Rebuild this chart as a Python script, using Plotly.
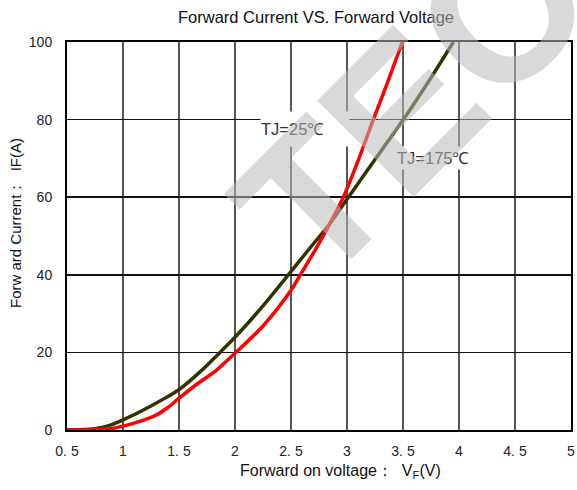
import plotly.graph_objects as go

# 175 C curve (dark olive)
vf_175 = [0.5, 0.7, 0.8, 0.9, 1.0, 1.25, 1.5, 1.7, 1.866, 2.0, 2.25, 2.476, 2.7, 2.83, 3.0, 3.25, 3.503, 3.75, 3.95]
if_175 = [0, 0.2, 0.6, 1.4, 2.6, 6.2, 10.4, 15.3, 20, 23.9, 32, 40, 48, 52.5, 59.5, 69.7, 80, 90.8, 100]

# 25 C curve (red)
vf_25 = [0.5, 0.75, 0.9, 1.0, 1.15, 1.3, 1.4, 1.5, 1.65, 1.83, 2.0, 2.25, 2.5, 2.6, 2.714, 2.83, 2.967, 3.1, 3.235, 3.37, 3.494]
if_25 = [0, 0.05, 0.4, 1.0, 2.2, 3.9, 5.8, 8.2, 11.6, 15.3, 19.8, 26.8, 36, 40.8, 46.3, 52.3, 60, 69.5, 80, 90.2, 100]

x_ticks = [0.5, 1, 1.5, 2, 2.5, 3, 3.5, 4, 4.5, 5]
x_ticktext = ["0. 5", "1", "1. 5", "2", "2. 5", "3", "3. 5", "4", "4. 5", "5"]
y_ticks = [0, 20, 40, 60, 80, 100]

font = "Liberation Sans, Arial, sans-serif"
narrow = "Liberation Sans Narrow, Liberation Sans, Arial, sans-serif"

L, R, T, B = 67, 6, 42, 60
W, H = 577, 490
PW, PH = W - L - R, H - T - B


def px(xp):
    return (xp - L) / PW


def py(yp):
    return (H - B - yp) / PH


fig = go.Figure()
fig.add_trace(go.Scatter(x=vf_175, y=if_175, mode="lines",
                         line=dict(color="#333300", width=3.5, shape="spline", smoothing=0.8), showlegend=False))
fig.add_trace(go.Scatter(x=vf_25, y=if_25, mode="lines",
                         line=dict(color="#ff0000", width=3.5, shape="spline", smoothing=0.8), showlegend=False))

fig.update_layout(
    width=W, height=H,
    margin=dict(l=L, r=R, t=T, b=B, autoexpand=False),
    paper_bgcolor="white", plot_bgcolor="white",
    font=dict(family=font, color="#111", size=13),
    xaxis=dict(range=[0.5, 5], tickmode="array", tickvals=x_ticks, ticktext=x_ticktext, automargin=False,
               showgrid=True, gridcolor="#555", gridwidth=1.8, showline=True, linecolor="black", linewidth=2,
               mirror=True, ticks="", zeroline=False, ticklabelstandoff=7,
               tickfont=dict(size=14, family=font, color="#222")),
    yaxis=dict(range=[0, 100], tickmode="array", tickvals=y_ticks, automargin=False,
               showgrid=True, gridcolor="#111", gridwidth=1.5, showline=True, linecolor="black", linewidth=2,
               mirror=True, ticks="", zeroline=False, ticklabelstandoff=10,
               tickfont=dict(size=14, family=narrow, color="#222")),
)

# title
fig.add_annotation(x=px(316), y=py(17), xref="paper", yref="paper", xanchor="center", yanchor="middle",
                   text="Forward Current VS. Forward Voltage", showarrow=False,
                   font=dict(size=16.5, family=font, color="#111"))
# x axis title
fig.add_annotation(x=px(340), y=py(471), xref="paper", yref="paper", xanchor="center", yanchor="middle",
                   text="Forward on voltage：  V<sub>F</sub>(V)", showarrow=False,
                   font=dict(size=16, family=font, color="#111"))
# y axis title
fig.add_annotation(x=px(15), y=py(223), xref="paper", yref="paper", xanchor="center", yanchor="middle",
                   text="Forw ard Current：  IF(A)", showarrow=False, textangle=-90,
                   font=dict(size=15, family=font, color="#111"))

# curve labels with white boxes
fig.add_annotation(x=2.625, y=77.7, xref="x", yref="y", text="TJ=25℃", showarrow=False,
                   width=88, height=34, align="left", bgcolor="white", borderpad=0,
                   font=dict(size=16.5, family=font, color="#333"))
fig.add_annotation(x=3.786, y=70.1, xref="x", yref="y", text="TJ=175℃", showarrow=False,
                   width=76, height=22, align="left", bgcolor="white", borderpad=0,
                   font=dict(size=16.5, family=font, color="#333"))

# watermark
fig.add_annotation(x=px(410), y=py(103), xref="paper", yref="paper", xanchor="center", yanchor="middle",
                   text="<b>TEC</b>", showarrow=False, textangle=-45,
                   font=dict(size=198, family=font, color="rgba(185,185,185,0.55)"))

fig.write_html("out.html", config={"displayModeBar": False, "staticPlot": True},
               post_script="document.body.style.margin='0';document.body.style.overflow='hidden';")
